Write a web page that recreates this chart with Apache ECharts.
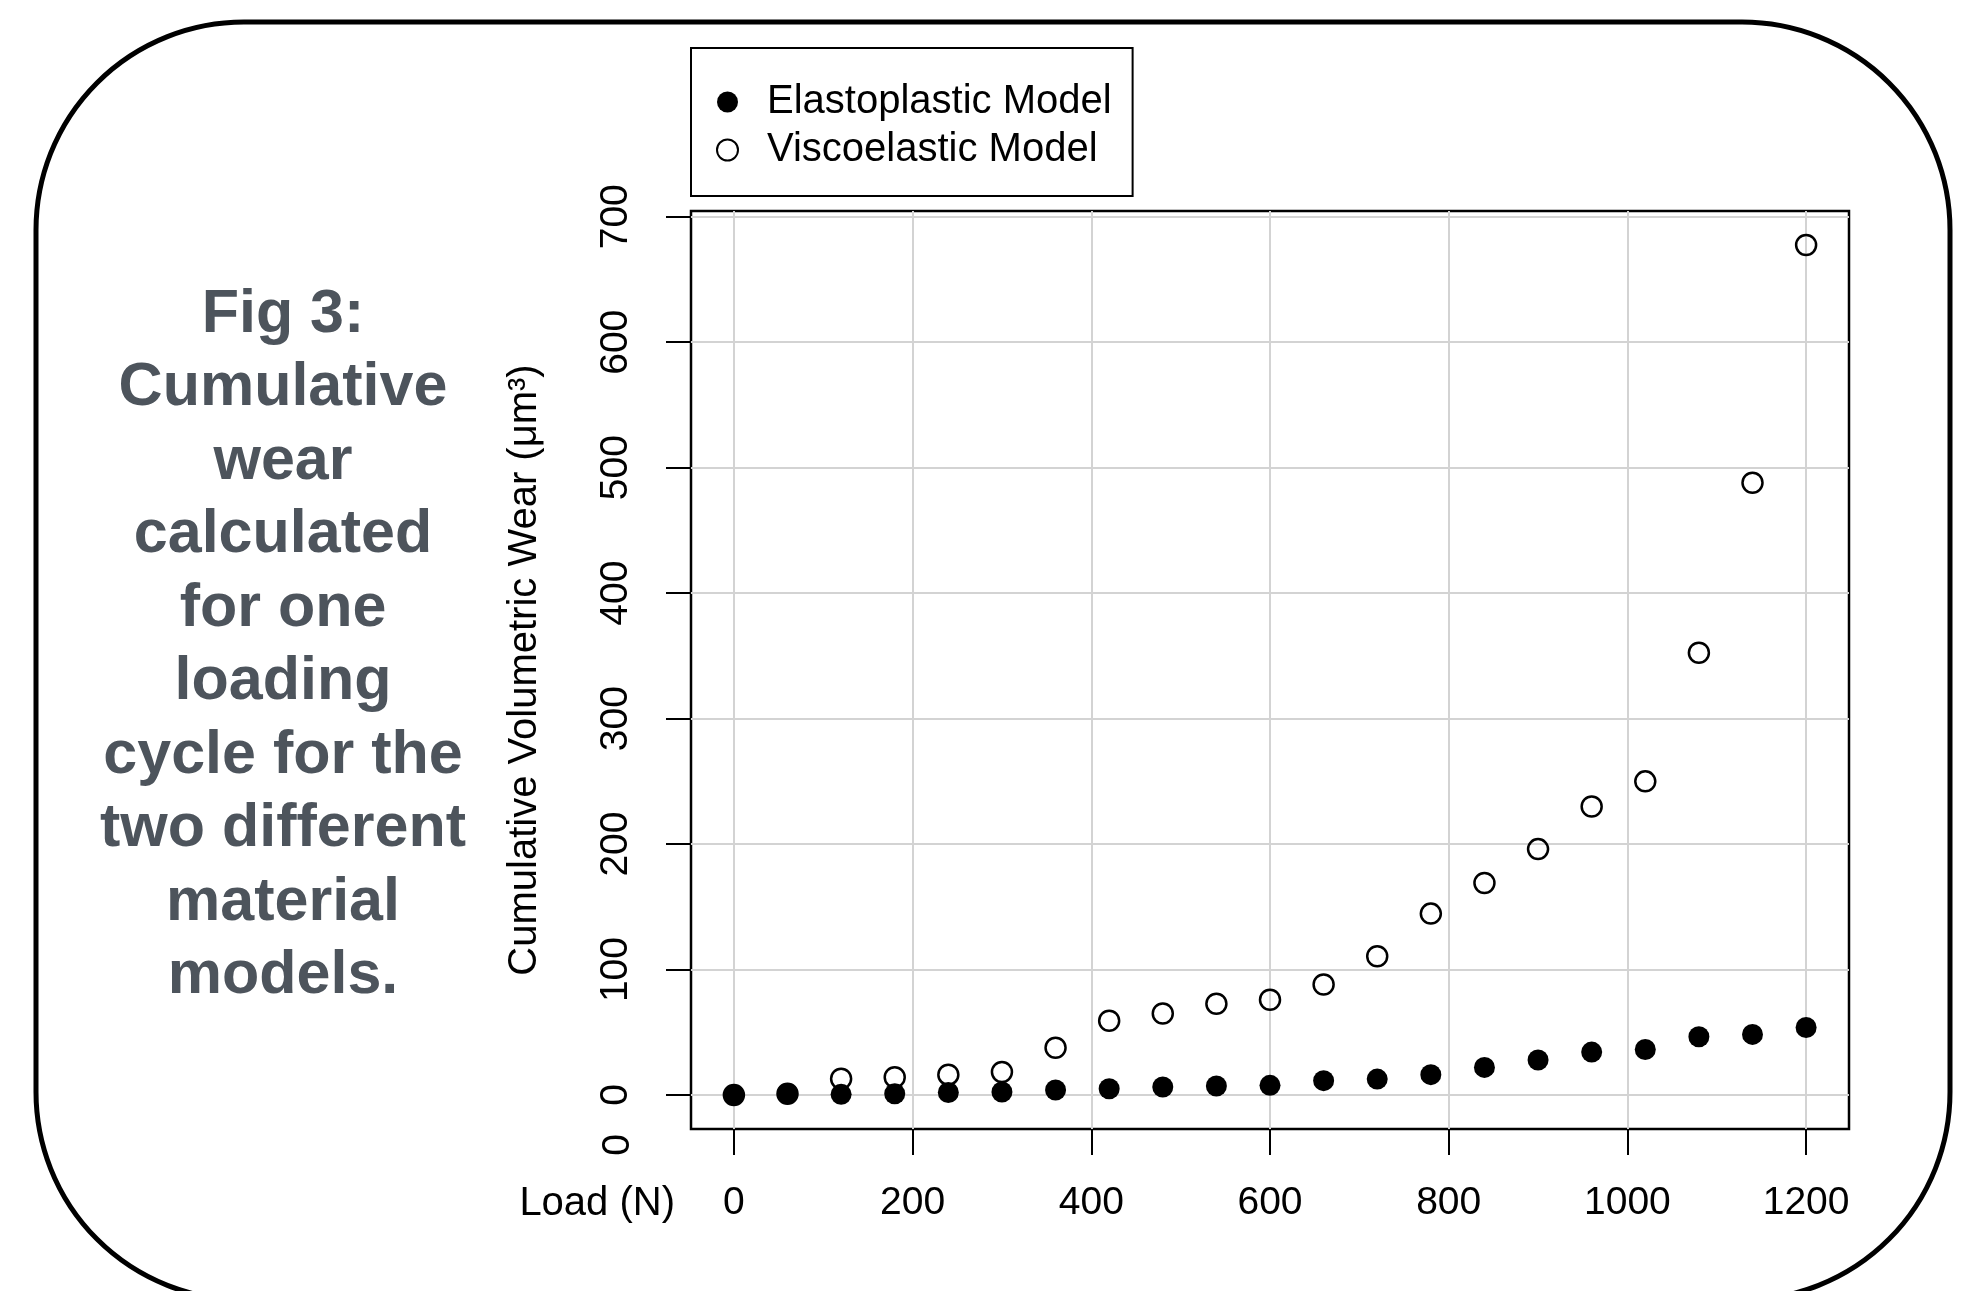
<!DOCTYPE html>
<html>
<head>
<meta charset="utf-8">
<script src="https://cdn.jsdelivr.net/npm/echarts@6/dist/echarts.min.js"></script>
<style>
  html, body { margin: 0; padding: 0; background: #fff; }
  #main { width: 1977px; height: 1291px; }
</style>
</head>
<body>
<div id="main"></div>
<script>
// load steps (N) and cumulative wear (um^3)
const load = [0, 60, 120, 180, 240, 300, 360, 420, 480, 540, 600, 660, 720, 780, 840, 900, 960, 1020, 1080, 1140, 1200];
const elastoplastic = [0, 1, 0.5, 1, 2, 2.4, 4, 5, 6.4, 7.2, 7.7, 11.4, 12.7, 16.2, 22, 27.9, 34.2, 36.3, 46.4, 48.3, 53.8];
const viscoelastic = [0, 1, 13, 14.1, 16.2, 18.3, 37.7, 59.2, 65, 72.7, 75.9, 88.1, 110.6, 144.6, 169, 196, 230, 250, 352.5, 488, 677.5];
const xTicks = [0, 200, 400, 600, 800, 1000, 1200];
const yTicks = [0, 100, 200, 300, 400, 500, 600, 700];

const font = "'Liberation Sans', Arial, Helvetica, sans-serif";

const pairs = (xs, ys) => xs.map((x, i) => [x, ys[i]]);

const chart = echarts.init(document.getElementById('main'));

const option = {
    animation: false,
    backgroundColor: '#fff',
    textStyle: { fontFamily: font },
    title: {
        text: 'Fig 3:\nCumulative\nwear\ncalculated\nfor one\nloading\ncycle for the\ntwo different\nmaterial\nmodels.',
        left: 278,
        top: 273,
        textAlign: 'center',
        textStyle: {
            fontFamily: font,
            fontSize: 61,
            fontWeight: 'bold',
            lineHeight: 73.5,
            color: '#4d545c'
        }
    },
    legend: {
        orient: 'vertical',
        left: 691,
        top: 48,
        padding: [34, 21, 26, 25],
        itemGap: 8,
        itemWidth: 21,
        itemHeight: 21,
        borderColor: '#000',
        borderWidth: 2,
        selectedMode: false,
        textStyle: { fontFamily: font, fontSize: 40, color: '#000', padding: [0, 0, 0, 24] },
        data: [
            { name: 'Elastoplastic Model', icon: 'circle', itemStyle: { color: '#000', opacity: 1 } },
            { name: 'Viscoelastic Model', icon: 'circle', itemStyle: { color: '#fff', borderColor: '#000', borderWidth: 2, opacity: 1 } }
        ]
    },
    grid: {
        left: 691,
        top: 211,
        right: 128,
        bottom: 162,
        show: true,
        borderColor: '#000',
        borderWidth: 2.5
    },
    xAxis: {
        type: 'value',
        min: -48,
        max: 1248,
        name: 'Load (N)',
        nameLocation: 'start',
        nameGap: 16,
        nameTextStyle: { fontFamily: font, fontSize: 40, color: '#000', verticalAlign: 'top', padding: [55, 0, 0, 0] },
        axisLine: { show: false, onZero: false },
        axisTick: { show: true, length: 26, customValues: xTicks, lineStyle: { color: '#000', width: 2 } },
        axisLabel: { customValues: xTicks, margin: 55, fontSize: 39, color: '#000', fontFamily: font, formatter: v => String(v) },
        splitLine: { show: true, lineStyle: { color: '#d3d3d3', width: 2 } }
    },
    yAxis: {
        type: 'value',
        min: -27.1,
        max: 704.6,
        name: 'Cumulative Volumetric Wear (μm³)',
        nameLocation: 'middle',
        nameRotate: 90,
        nameGap: 146,
        nameTextStyle: { fontFamily: font, fontSize: 40, color: '#000' },
        axisLine: { show: false, onZero: false },
        axisTick: { show: true, length: 25, customValues: yTicks, lineStyle: { color: '#000', width: 2 } },
        axisLabel: { customValues: yTicks, rotate: 90, margin: 55, fontSize: 39, color: '#000', fontFamily: font, formatter: v => String(v) },
        splitLine: { show: true, lineStyle: { color: '#d3d3d3', width: 2 } }
    },
    series: [
        {
            name: 'Elastoplastic Model',
            type: 'scatter',
            symbol: 'circle',
            symbolSize: 21,
            silent: true,
            itemStyle: { color: '#000', opacity: 1 },
            data: pairs(load, elastoplastic)
        },
        {
            name: 'Viscoelastic Model',
            type: 'scatter',
            symbol: 'circle',
            symbolSize: 20,
            silent: true,
            itemStyle: { color: 'rgba(0,0,0,0)', borderColor: '#000', borderWidth: 2.5, opacity: 1 },
            data: pairs(load, viscoelastic)
        }
    ],
    graphic: [
        {
            type: 'rect',
            silent: true,
            z: -1,
            shape: { x: 36, y: 22, width: 1914, height: 1278, r: 208 },
            style: { fill: 'none', stroke: '#000', lineWidth: 5 }
        },
        {
            type: 'text',
            silent: true,
            x: 618,
            y: 1145,
            rotation: Math.PI / 2,
            style: { text: '0', fontSize: 39, fontFamily: font, fill: '#000', align: 'center', verticalAlign: 'middle' }
        }
    ]
};

chart.setOption(option);
</script>
</body>
</html>
